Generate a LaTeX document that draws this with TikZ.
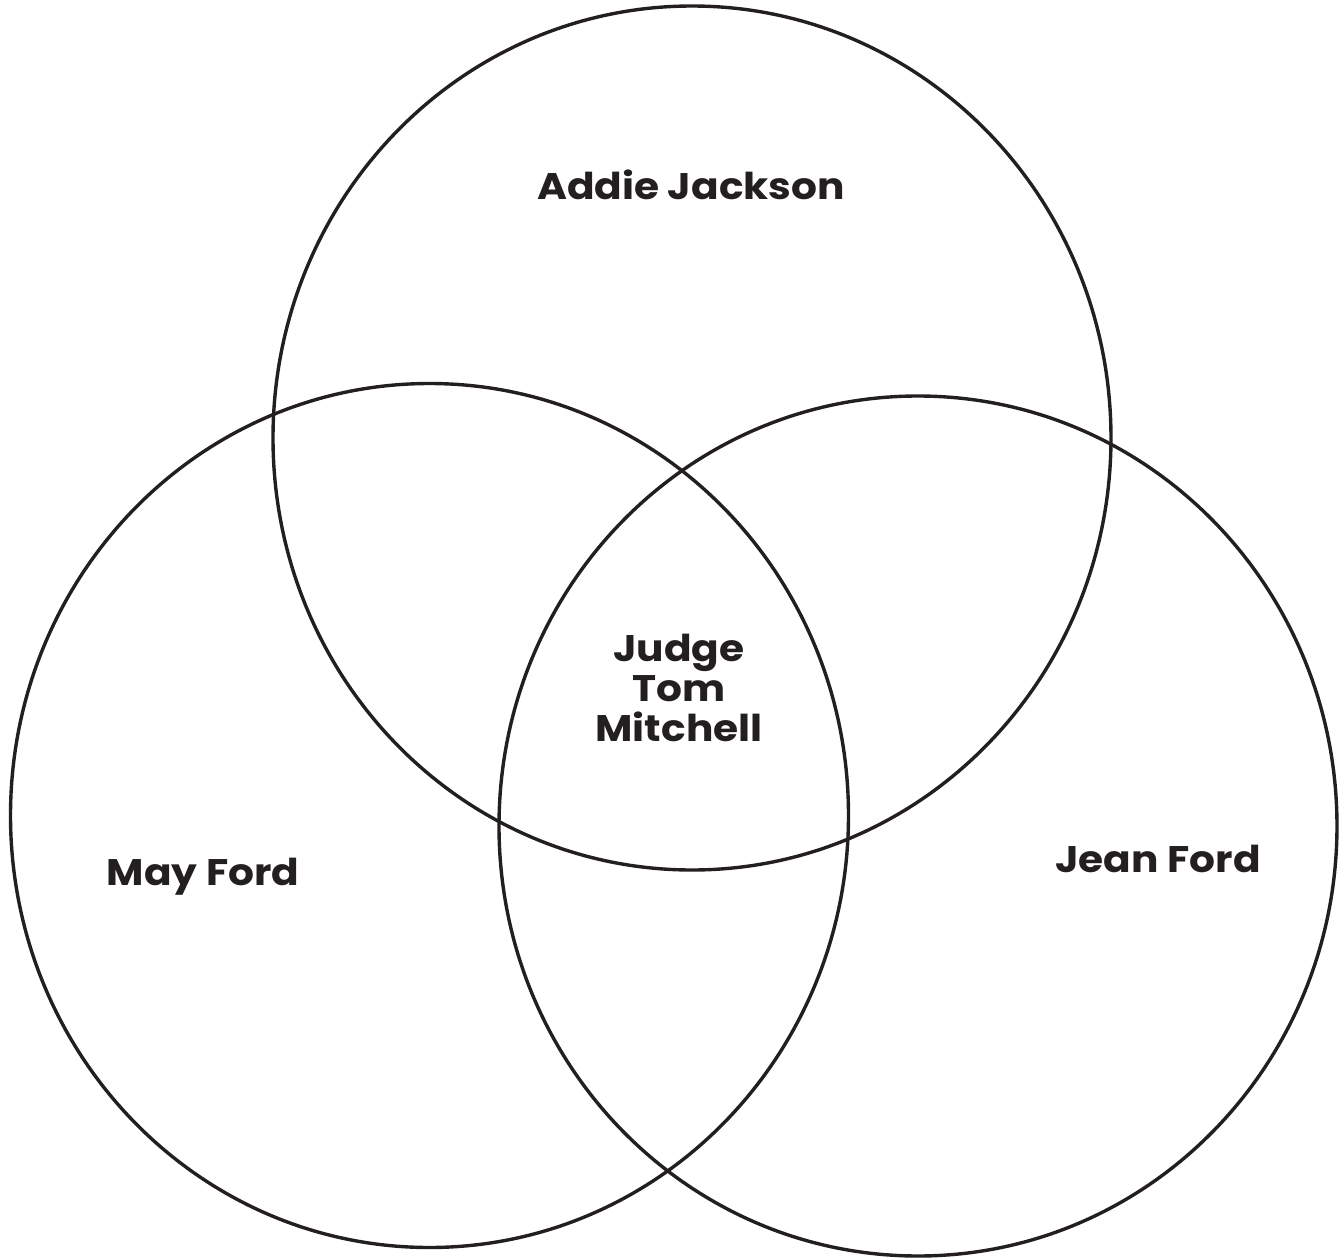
\documentclass[tikz,border=0pt]{standalone}
\usepackage{fontspec}
\setmainfont{Poppins}[FakeStretch=1.1]
\definecolor{ink}{HTML}{231F20}
\begin{document}
\begin{tikzpicture}[x=0.5pt,y=-0.5pt,
  ring/.style={draw=ink,line width=1.7pt},
  lbl/.style={font=\fontsize{18.5}{20}\selectfont\bfseries,text=ink,align=center,inner sep=0pt}]
\useasboundingbox (0,0) rectangle (1341,1259);
\draw[ring] (692,438) ellipse [x radius=209.5pt, y radius=216pt];
\draw[ring] (429.5,815.5) ellipse [x radius=209.5pt, y radius=216pt];
\draw[ring] (918,826) ellipse [x radius=209.5pt, y radius=215pt];
\node[lbl] (addie) at (691,185) {Addie Jackson};
\node[lbl] (judge) at (679,688) {Judge\\Tom\\Mitchell};
\node[lbl] (may) at (203,877) {May Ford};
\node[lbl] (jean) at (1158,859) {Jean Ford};
\end{tikzpicture}
\end{document}
